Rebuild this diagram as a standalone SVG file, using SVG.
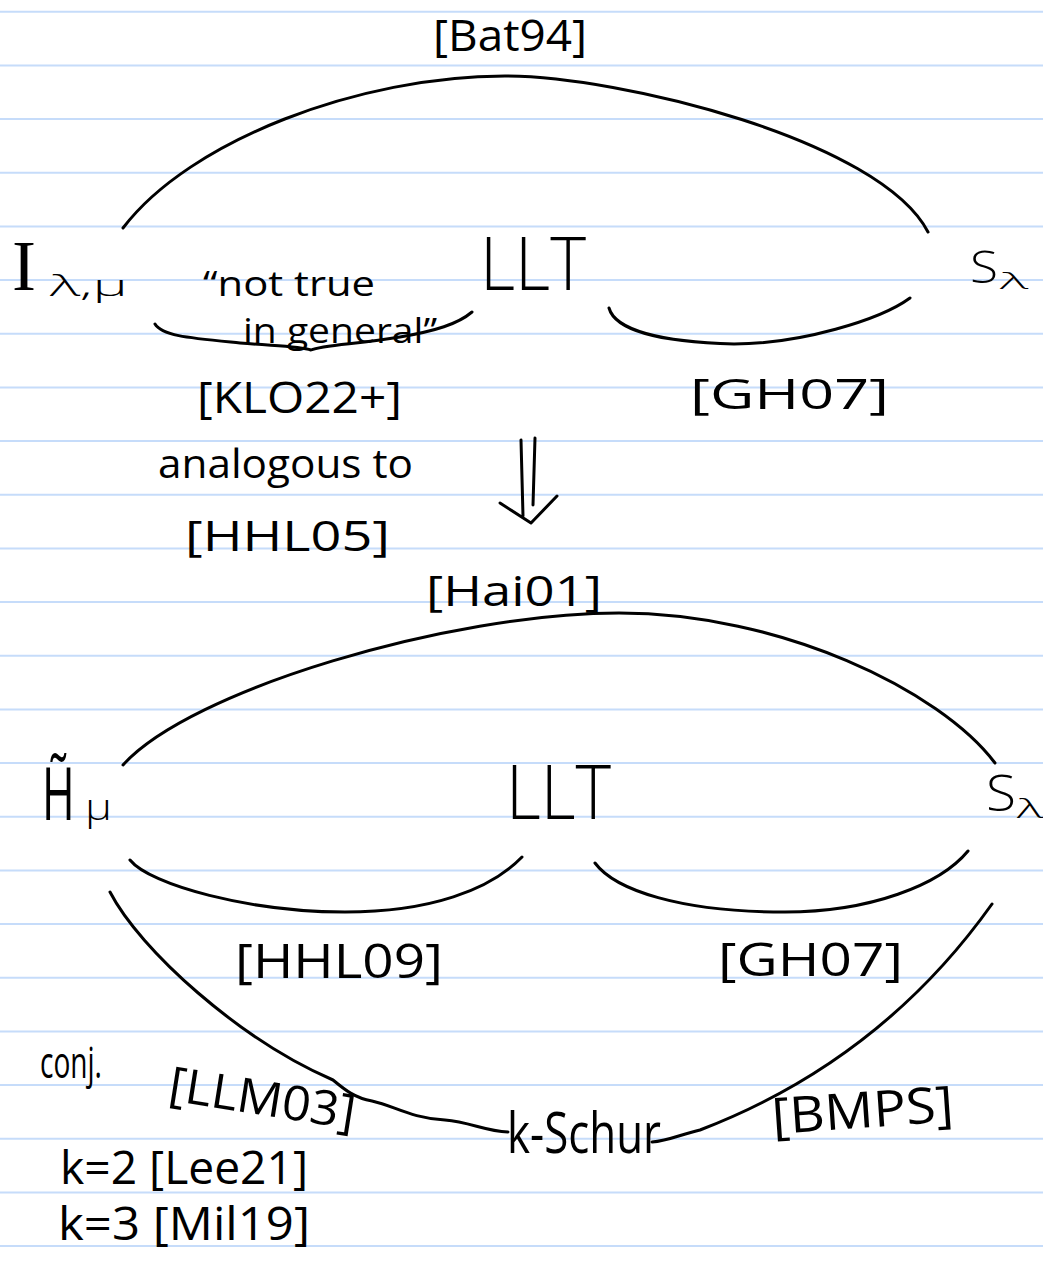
<svg xmlns="http://www.w3.org/2000/svg" width="1043" height="1270" viewBox="0 0 1043 1270">
<style>
.hw{font-family:"Open Sans","DejaVu Sans",sans-serif;font-weight:400;fill:#000}
.lt{font-weight:300}
.serif{font-family:"Liberation Serif","DejaVu Serif",serif;font-weight:400}
.c{fill:none;stroke:#000;stroke-width:3;stroke-linecap:round;stroke-linejoin:round}
.rule{stroke:#c6dcfa;stroke-width:2}
</style>
<rect width="1043" height="1270" fill="#fff"/>
<g id="ruled-paper">
<line class="rule" x1="0" y1="11.7" x2="1043" y2="11.7"/>
<line class="rule" x1="0" y1="65.4" x2="1043" y2="65.4"/>
<line class="rule" x1="0" y1="119" x2="1043" y2="119"/>
<line class="rule" x1="0" y1="172.7" x2="1043" y2="172.7"/>
<line class="rule" x1="0" y1="226.4" x2="1043" y2="226.4"/>
<line class="rule" x1="0" y1="280" x2="1043" y2="280"/>
<line class="rule" x1="0" y1="333.7" x2="1043" y2="333.7"/>
<line class="rule" x1="0" y1="387.4" x2="1043" y2="387.4"/>
<line class="rule" x1="0" y1="441.1" x2="1043" y2="441.1"/>
<line class="rule" x1="0" y1="494.7" x2="1043" y2="494.7"/>
<line class="rule" x1="0" y1="548.4" x2="1043" y2="548.4"/>
<line class="rule" x1="0" y1="602.1" x2="1043" y2="602.1"/>
<line class="rule" x1="0" y1="655.7" x2="1043" y2="655.7"/>
<line class="rule" x1="0" y1="709.4" x2="1043" y2="709.4"/>
<line class="rule" x1="0" y1="763.1" x2="1043" y2="763.1"/>
<line class="rule" x1="0" y1="816.8" x2="1043" y2="816.8"/>
<line class="rule" x1="0" y1="870.4" x2="1043" y2="870.4"/>
<line class="rule" x1="0" y1="924.1" x2="1043" y2="924.1"/>
<line class="rule" x1="0" y1="977.8" x2="1043" y2="977.8"/>
<line class="rule" x1="0" y1="1031.4" x2="1043" y2="1031.4"/>
<line class="rule" x1="0" y1="1085.1" x2="1043" y2="1085.1"/>
<line class="rule" x1="0" y1="1138.8" x2="1043" y2="1138.8"/>
<line class="rule" x1="0" y1="1192.4" x2="1043" y2="1192.4"/>
<line class="rule" x1="0" y1="1246.1" x2="1043" y2="1246.1"/>
</g>
<g id="connectors">
<path class="c" d="M123,228 C190,140 360,76 505,76 C620,76 880,140 928,232"/>
<path class="c" d="M155,324 C162,336 190,338 240,343 C275,346 300,346 311,350 C322,345 360,344 400,337 C435,331 458,324 472,312"/>
<path class="c" d="M609,308 C615,330 660,342 734,344 C800,344 880,320 910,298"/>
<path class="c" d="M521,440 L523,516 M535,438 L533,505 M500,503 L531,523 L557,496"/>
<path class="c" d="M123,765 C190,690 450,613 619,613 C780,613 940,690 995,763"/>
<path class="c" d="M130,860 C150,885 250,912 345,912 C430,912 490,890 522,857"/>
<path class="c" d="M595,863 C615,890 680,912 785,912 C870,912 940,885 968,851"/>
<path class="c" d="M110,892 C140,950 240,1040 333,1080 C345,1090 355,1098 372,1101 C395,1106 410,1118 445,1120 C470,1122 485,1131 508,1132"/>
<path class="c" d="M652,1142 C668,1141 682,1134 700,1130 C820,1084 918,1008 992,904"/>
</g>
<g id="node-I">
<text class="hw lt"><tspan class="serif" x="12" y="290" font-size="72">I</tspan><tspan x="50" y="296" font-size="30" textLength="78" lengthAdjust="spacingAndGlyphs">λ,μ</tspan></text>
</g>
<g id="node-LLT-top">
<text class="hw lt" x="480" y="290" font-size="74" textLength="106" lengthAdjust="spacingAndGlyphs">LLT</text>
</g>
<g id="node-s-top">
<text class="hw lt"><tspan x="970" y="283" font-size="45" textLength="28" lengthAdjust="spacingAndGlyphs">S</tspan><tspan x="1000" y="289" font-size="22" textLength="28" lengthAdjust="spacingAndGlyphs">λ</tspan></text>
</g>
<g id="node-H">
<text class="hw" font-size="74" transform="translate(42,820) scale(0.6,1)">H̃</text>
<text class="hw lt" x="85" y="820" font-size="36" textLength="27" lengthAdjust="spacingAndGlyphs">μ</text>
</g>
<g id="node-LLT-bottom">
<text class="hw lt" x="506" y="819" font-size="76" textLength="105" lengthAdjust="spacingAndGlyphs">LLT</text>
</g>
<g id="node-s-bottom">
<text class="hw lt"><tspan x="986" y="811" font-size="49" textLength="30" lengthAdjust="spacingAndGlyphs">S</tspan><tspan x="1017" y="818" font-size="26" textLength="26" lengthAdjust="spacingAndGlyphs">λ</tspan></text>
</g>
<g id="node-kschur">
<text class="hw" x="507" y="1153" font-size="56" textLength="154" lengthAdjust="spacingAndGlyphs">k-Schur</text>
</g>
<g id="labels">
<text class="hw" x="433" y="51" font-size="44" textLength="154" lengthAdjust="spacingAndGlyphs">[Bat94]</text>
<text class="hw"><tspan x="203" y="296" font-size="34" textLength="172" lengthAdjust="spacingAndGlyphs">“not true</tspan><tspan x="243" y="343" font-size="34" textLength="194" lengthAdjust="spacingAndGlyphs">in general”</tspan></text>
<text class="hw" x="197" y="413" font-size="43" textLength="205" lengthAdjust="spacingAndGlyphs">[KLO22+]</text>
<text class="hw" x="690" y="409" font-size="42" textLength="199" lengthAdjust="spacingAndGlyphs">[GH07]</text>
<text class="hw" x="158" y="478" font-size="41" textLength="255" lengthAdjust="spacingAndGlyphs">analogous to</text>
<text class="hw" x="185" y="551" font-size="42" textLength="205" lengthAdjust="spacingAndGlyphs">[HHL05]</text>
<text class="hw" x="426" y="606" font-size="42" textLength="176" lengthAdjust="spacingAndGlyphs">[Hai01]</text>
<text class="hw" x="235" y="978" font-size="48" textLength="208" lengthAdjust="spacingAndGlyphs">[HHL09]</text>
<text class="hw" x="718" y="976" font-size="45" textLength="185" lengthAdjust="spacingAndGlyphs">[GH07]</text>
<text class="hw" x="40" y="1078" font-size="44" textLength="62" lengthAdjust="spacingAndGlyphs">conj.</text>
<text class="hw" x="167" y="1100" font-size="48" textLength="188" lengthAdjust="spacingAndGlyphs" transform="rotate(9 167 1100)">[LLM03]</text>
<text class="hw" x="773" y="1134" font-size="50" textLength="182" lengthAdjust="spacingAndGlyphs" transform="rotate(-4 773 1134)">[BMPS]</text>
<text class="hw" x="60" y="1184" font-size="46" textLength="248" lengthAdjust="spacingAndGlyphs">k=2 [Lee21]</text>
<text class="hw" x="58" y="1240" font-size="46" textLength="252" lengthAdjust="spacingAndGlyphs">k=3 [Mil19]</text>
</g>
</svg>
